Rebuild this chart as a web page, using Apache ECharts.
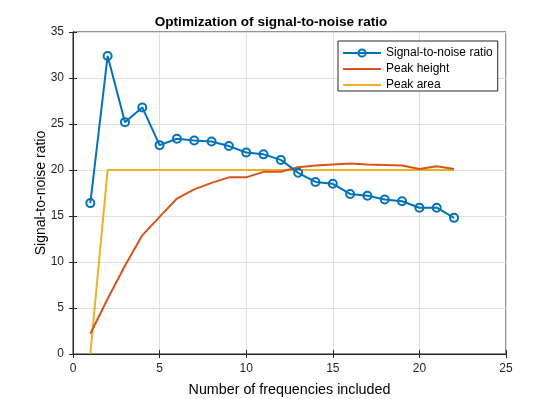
<!DOCTYPE html>
<html>
<head>
    <meta charset="utf-8">
    <title>Optimization of signal-to-noise ratio</title>
    <script src="https://cdn.jsdelivr.net/npm/echarts@6/dist/echarts.min.js"></script>
    <style>
        html, body { margin: 0; padding: 0; background: #fff; }
    </style>
</head>
<body>
    <div id="main" style="width: 560px;height:399px;"></div>

    <script type="text/javascript">
        // number of frequencies included
        var nFreq = [1, 2, 3, 4, 5, 6, 7, 8, 9, 10, 11, 12, 13, 14, 15, 16, 17, 18, 19, 20, 21, 22];
        var snr = [16.4, 32.4, 25.2, 26.8, 22.7, 23.4, 23.2, 23.1, 22.6, 21.9, 21.7, 21.1,
                   19.7, 18.7, 18.5, 17.4, 17.2, 16.8, 16.6, 15.9, 15.9, 14.8];
        var peakHeight = [2.2, 6.0, 9.6, 12.9, 14.9, 16.9, 17.9, 18.6, 19.2, 19.2, 19.8, 19.8,
                          20.3, 20.5, 20.6, 20.7, 20.6, 20.55, 20.5, 20.1, 20.4, 20.1];
        var peakArea = [0, 20, 20, 20, 20, 20, 20, 20, 20, 20, 20, 20,
                        20, 20, 20, 20, 20, 20, 20, 20, 20, 20];
        var xTicks = [0, 5, 10, 15, 20, 25];
        var yTicks = [0, 5, 10, 15, 20, 25, 30, 35];

        function pairs(ys) {
            return nFreq.map(function (x, i) { return [x, ys[i]]; });
        }

        var font = 'Liberation Sans, Arial, sans-serif';
        var axisColor = '#262626';
        // plain line for legend entries without markers
        var lineIcon = 'path://M0,0 L40,0 L40,2 L0,2 Z';

        var myChart = echarts.init(document.getElementById('main'));

        var option = {
            animation: false,
            title: {
                text: 'Optimization of signal-to-noise ratio',
                left: 266,
                textAlign: 'center',
                top: 10,
                textStyle: { fontFamily: font, fontSize: 13.6, fontWeight: 'bold', color: '#000' }
            },
            legend: {
                orient: 'vertical',
                left: 338,
                top: 41,
                padding: [6, 5, 0, 4],
                itemWidth: 38,
                itemHeight: 9,
                itemGap: 4,
                borderColor: axisColor,
                borderWidth: 1,
                borderRadius: 0,
                backgroundColor: '#fff',
                textStyle: { fontFamily: font, fontSize: 12, color: '#000' },
                data: [
                    { name: 'Signal-to-noise ratio' },
                    { name: 'Peak height', icon: lineIcon },
                    { name: 'Peak area', icon: lineIcon }
                ]
            },
            grid: {
                left: 73,
                right: 54,
                top: 32,
                bottom: 45,
                outerBoundsMode: 'none',
                show: true,
                borderColor: axisColor,
                borderWidth: 1
            },
            xAxis: [{
                type: 'value',
                min: xTicks[0],
                max: xTicks[xTicks.length - 1],
                interval: 5,
                name: 'Number of frequencies included',
                nameLocation: 'middle',
                nameGap: 29,
                nameTextStyle: { fontFamily: font, fontSize: 14.3, color: '#000' },
                axisLine: { lineStyle: { color: axisColor } },
                axisTick: { inside: true, length: 4, lineStyle: { color: axisColor } },
                axisLabel: { fontFamily: font, fontSize: 12, color: axisColor, margin: 9 },
                splitLine: { lineStyle: { color: '#dfdfdf' } }
            }, {
                type: 'value',
                position: 'top',
                min: xTicks[0],
                max: xTicks[xTicks.length - 1],
                interval: 5,
                axisLine: { lineStyle: { color: axisColor } },
                axisTick: { inside: true, length: 4, lineStyle: { color: axisColor } },
                axisLabel: { show: false },
                splitLine: { show: false }
            }],
            yAxis: [{
                type: 'value',
                min: yTicks[0],
                max: yTicks[yTicks.length - 1],
                interval: 5,
                name: 'Signal-to-noise ratio',
                nameLocation: 'middle',
                nameGap: 25,
                nameMoveOverlap: false,
                nameTextStyle: { fontFamily: font, fontSize: 14, color: '#000' },
                axisLine: { show: true, lineStyle: { color: axisColor } },
                axisTick: { show: true, inside: true, length: 4, lineStyle: { color: axisColor } },
                axisLabel: { fontFamily: font, fontSize: 12, color: axisColor, margin: 9 },
                splitLine: { lineStyle: { color: '#dfdfdf' } }
            }, {
                type: 'value',
                position: 'right',
                min: yTicks[0],
                max: yTicks[yTicks.length - 1],
                interval: 5,
                axisLine: { show: true, lineStyle: { color: axisColor } },
                axisTick: { show: true, inside: true, length: 4, lineStyle: { color: axisColor } },
                axisLabel: { show: false },
                splitLine: { show: false }
            }],
            series: [
            {
                name: 'Signal-to-noise ratio',
                type: 'line',
                data: pairs(snr),
                symbol: 'circle',
                symbolSize: 8,
                color: '#0072BD',
                lineStyle: { width: 2, color: '#0072BD' },
                itemStyle: { color: 'rgba(255,255,255,0)', borderWidth: 2, borderColor: '#0072BD' },
                z: 5
            },
            {
                name: 'Peak height',
                type: 'line',
                data: pairs(peakHeight),
                symbol: 'none',
                color: '#D95319',
                lineStyle: { width: 2, color: '#D95319' },
                z: 4
            },
            {
                name: 'Peak area',
                type: 'line',
                data: pairs(peakArea),
                symbol: 'none',
                color: '#EDB120',
                lineStyle: { width: 2, color: '#EDB120' },
                z: 3
            }
            ]
        };

        myChart.setOption(option);
    </script>
</body>
</html>
